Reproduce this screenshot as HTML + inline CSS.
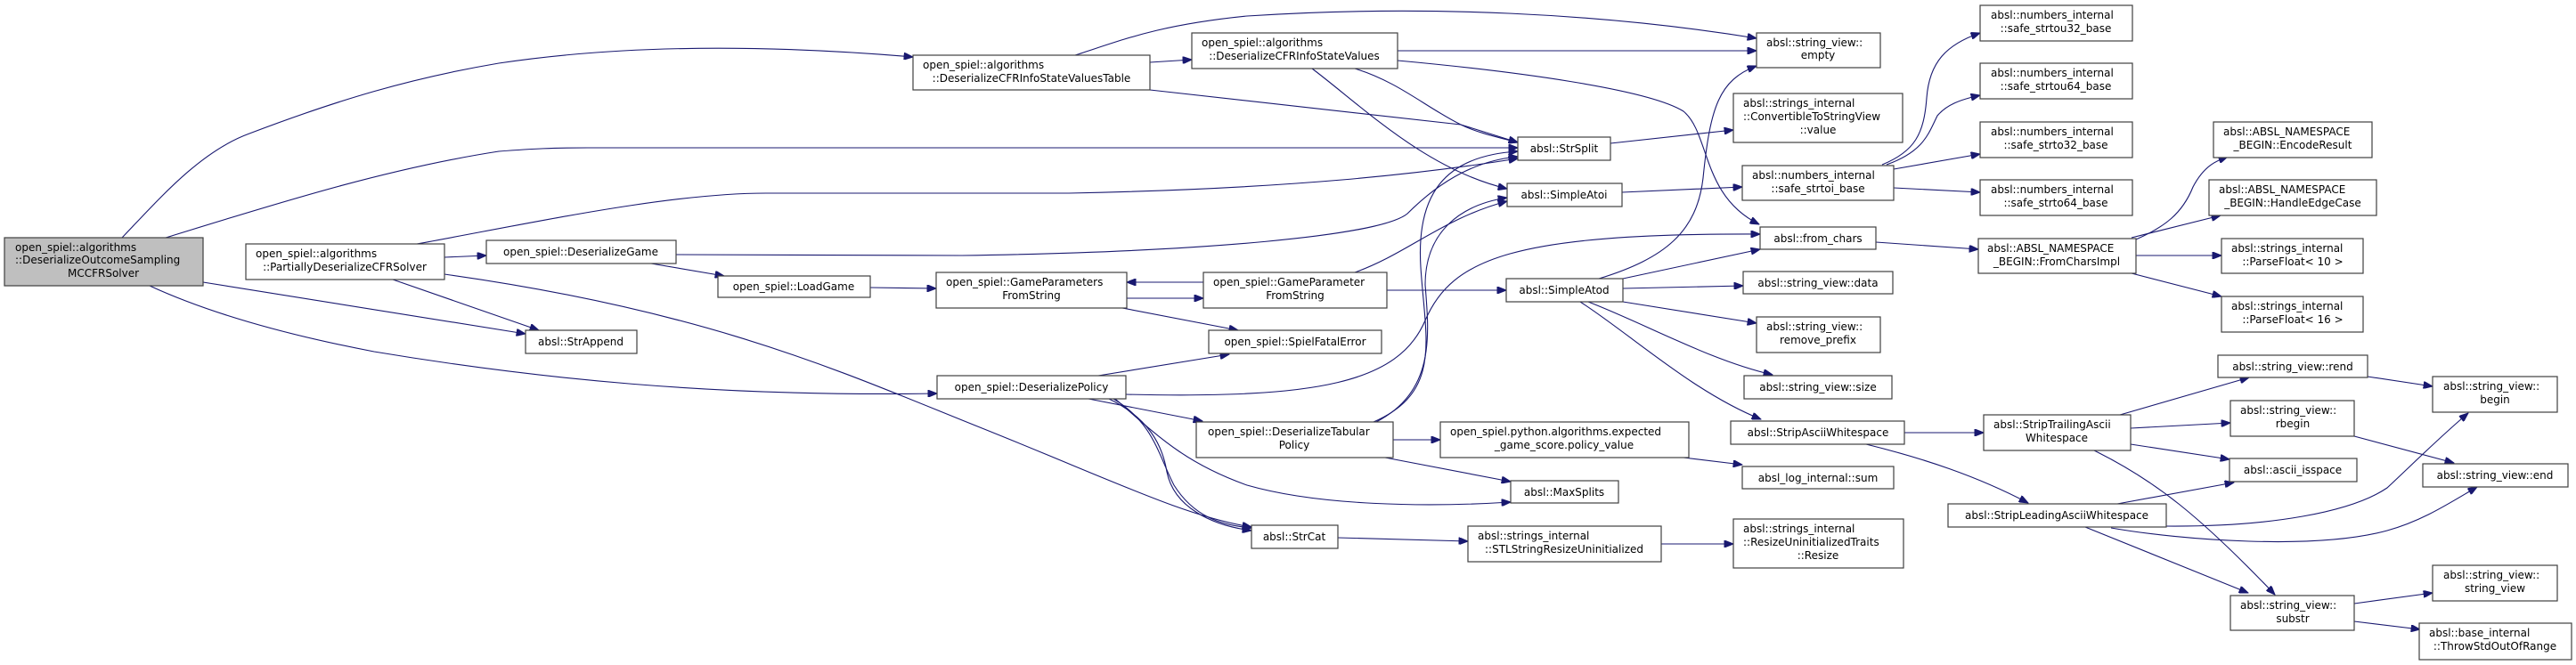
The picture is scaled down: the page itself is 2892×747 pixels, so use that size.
<!DOCTYPE html>
<html><head><meta charset="utf-8"><style>
html,body{margin:0;padding:0;background:#fff;}
svg{display:block;}
text{font-family:"DejaVu Sans","Liberation Sans",sans-serif;font-size:12px;fill:#000;}
.n{fill:#fff;stroke:#404040;stroke-width:1.2;}
.m{fill:#bfbfbf;stroke:#404040;stroke-width:1.2;}
.e{fill:none;stroke:#191970;stroke-width:1.1;marker-end:url(#a);}
</style></head><body>
<svg width="2892" height="747" viewBox="0 0 2892 747" xmlns="http://www.w3.org/2000/svg">
<defs><marker id="a" viewBox="0 0 10 8" refX="10" refY="4" markerWidth="11" markerHeight="8" markerUnits="userSpaceOnUse" orient="auto"><path d="M0,0 L10,4 L0,8 Z" fill="#191970" stroke="#191970"/></marker></defs>

<!-- edges -->
<path class="e" d="M137,267 C180,222 225,170 280,150 C380,112 460,88 560,71 C700,50 860,50 1025,64"/>
<path class="e" d="M186,267 C300,232 430,190 560,170 C600,167 620,166 660,166 L1704,166"/>
<path class="e" d="M468,274 C600,250 750,217 860,217 L1200,217 C1450,212 1600,195 1704,178"/>
<path class="e" d="M759,286 L1080,287 C1350,283 1550,265 1580,240 C1620,200 1660,180 1704,176"/>
<path class="e" d="M228,317 L590,375"/>
<path class="e" d="M441,314 L605,371"/>
<path class="e" d="M168,321 C220,345 300,372 420,395 C600,425 800,446 1052,442"/>
<path class="e" d="M499,308 C800,350 950,420 1100,480 C1250,540 1330,580 1405,592"/>
<path class="e" d="M499,289 L546,287"/>
<path class="e" d="M731,296 L813,310"/>
<path class="e" d="M977,323 L1051,324"/>
<path class="e" d="M1291,70 L1338,67"/>
<path class="e" d="M1291,101 L1640,140 L1704,160"/>
<path class="e" d="M1207,62 C1260,45 1300,28 1400,18 C1600,5 1800,15 1972,43"/>
<path class="e" d="M1569,57 L1972,57"/>
<path class="e" d="M1569,68 C1700,80 1850,100 1890,125 C1920,150 1910,220 1975,252"/>
<path class="e" d="M1521,77 C1570,92 1600,120 1640,140 C1660,150 1690,156 1704,160"/>
<path class="e" d="M1473,77 C1530,120 1600,190 1692,212"/>
<path class="e" d="M1521,306 C1580,285 1620,245 1692,226"/>
<path class="e" d="M1542,474 C1620,440 1600,380 1595,300 C1590,220 1620,175 1704,170"/>
<path class="e" d="M1545,474 C1610,440 1605,380 1600,320 C1600,260 1640,230 1692,222"/>
<path class="e" d="M1264,443 C1480,448 1570,430 1600,360 C1630,290 1700,262 1976,263"/>
<path class="e" d="M1233,422 L1380,398"/>
<path class="e" d="M1260,346 L1390,371"/>
<path class="e" d="M1351,317 L1265,317"/>
<path class="e" d="M1265,335 L1351,335"/>
<path class="e" d="M1557,326 L1691,326"/>
<path class="e" d="M1222,448 L1350,473"/>
<path class="e" d="M1245,448 C1290,470 1305,500 1310,530 C1318,570 1360,590 1405,596"/>
<path class="e" d="M1250,448 C1295,475 1300,510 1318,545 C1340,580 1370,590 1405,593"/>
<path class="e" d="M1252,448 C1300,490 1330,520 1400,545 C1480,568 1600,570 1696,564"/>
<path class="e" d="M1555,514 L1696,541"/>
<path class="e" d="M1564,494 L1617,494"/>
<path class="e" d="M1502,604 L1648,608"/>
<path class="e" d="M1890,514 L1956,522"/>
<path class="e" d="M1808,161 L1946,146"/>
<path class="e" d="M1821,216 L1956,210"/>
<path class="e" d="M1795,313 C1870,290 1905,260 1912,200 C1920,120 1930,90 1972,74"/>
<path class="e" d="M1822,313 L1976,280"/>
<path class="e" d="M1822,324 L1957,321"/>
<path class="e" d="M1822,339 L1972,363"/>
<path class="e" d="M1783,339 C1850,365 1920,405 1990,421"/>
<path class="e" d="M1774,339 C1830,375 1900,440 1977,471"/>
<path class="e" d="M1865,611 L1946,611"/>
<path class="e" d="M2138,486 L2227,486"/>
<path class="e" d="M2095,499 C2160,515 2220,535 2277,565"/>
<path class="e" d="M2113,185 C2150,170 2160,150 2163,110 C2166,70 2185,50 2223,37"/>
<path class="e" d="M2118,185 C2160,170 2165,150 2175,130 C2185,118 2200,112 2223,107"/>
<path class="e" d="M2126,190 L2223,173"/>
<path class="e" d="M2126,211 L2223,216"/>
<path class="e" d="M2106,272 L2221,280"/>
<path class="e" d="M2398,269 C2430,255 2450,240 2462,210 C2475,185 2490,180 2501,176"/>
<path class="e" d="M2393,267 L2493,242"/>
<path class="e" d="M2398,287 L2494,287"/>
<path class="e" d="M2393,307 L2494,333"/>
<path class="e" d="M2380,466 L2525,424"/>
<path class="e" d="M2392,481 L2504,475"/>
<path class="e" d="M2392,499 L2503,516"/>
<path class="e" d="M2351,506 C2420,540 2470,580 2554,668"/>
<path class="e" d="M2377,566 L2508,542"/>
<path class="e" d="M2431,591 C2550,592 2640,575 2680,548 C2710,520 2740,490 2771,464"/>
<path class="e" d="M2370,593 C2450,607 2600,618 2680,596 C2720,585 2750,565 2781,547"/>
<path class="e" d="M2341,592 L2524,666"/>
<path class="e" d="M2658,423 L2731,434"/>
<path class="e" d="M2643,490 L2755,520"/>
<path class="e" d="M2643,678 L2731,666"/>
<path class="e" d="M2643,698 L2717,707"/>

<!-- nodes -->
<rect class="m" x="5" y="267" width="223" height="54"/>
<text x="17" y="282">open_spiel::algorithms</text><text x="17" y="296">::DeserializeOutcomeSampling</text><text x="116" y="311" text-anchor="middle">MCCFRSolver</text>

<rect class="n" x="276" y="274" width="223" height="40"/>
<text x="287" y="289">open_spiel::algorithms</text><text x="387" y="304" text-anchor="middle">::PartiallyDeserializeCFRSolver</text>

<rect class="n" x="546" y="270" width="213" height="26"/><text x="652" y="287" text-anchor="middle">open_spiel::DeserializeGame</text>
<rect class="n" x="806" y="310" width="171" height="24"/><text x="891" y="326" text-anchor="middle">open_spiel::LoadGame</text>
<rect class="n" x="590" y="371" width="125" height="26"/><text x="652" y="388" text-anchor="middle">absl::StrAppend</text>

<rect class="n" x="1025" y="62" width="266" height="39"/>
<text x="1036" y="77">open_spiel::algorithms</text><text x="1158" y="92" text-anchor="middle">::DeserializeCFRInfoStateValuesTable</text>

<rect class="n" x="1051" y="306" width="214" height="40"/>
<text x="1062" y="321">open_spiel::GameParameters</text><text x="1158" y="336" text-anchor="middle">FromString</text>

<rect class="n" x="1052" y="422" width="212" height="26"/><text x="1158" y="439" text-anchor="middle">open_spiel::DeserializePolicy</text>

<rect class="n" x="1338" y="37" width="231" height="40"/>
<text x="1349" y="52">open_spiel::algorithms</text><text x="1453" y="67" text-anchor="middle">::DeserializeCFRInfoStateValues</text>

<rect class="n" x="1351" y="306" width="206" height="40"/>
<text x="1362" y="321">open_spiel::GameParameter</text><text x="1454" y="336" text-anchor="middle">FromString</text>

<rect class="n" x="1357" y="371" width="194" height="26"/><text x="1454" y="388" text-anchor="middle">open_spiel::SpielFatalError</text>

<rect class="n" x="1343" y="474" width="221" height="40"/>
<text x="1356" y="489">open_spiel::DeserializeTabular</text><text x="1453" y="504" text-anchor="middle">Policy</text>

<rect class="n" x="1405" y="590" width="97" height="26"/><text x="1453" y="607" text-anchor="middle">absl::StrCat</text>

<rect class="n" x="1617" y="474" width="279" height="40"/>
<text x="1628" y="489">open_spiel.python.algorithms.expected</text><text x="1756" y="504" text-anchor="middle">_game_score.policy_value</text>

<rect class="n" x="1704" y="154" width="104" height="26"/><text x="1756" y="171" text-anchor="middle">absl::StrSplit</text>
<rect class="n" x="1692" y="206" width="129" height="26"/><text x="1756" y="223" text-anchor="middle">absl::SimpleAtoi</text>
<rect class="n" x="1691" y="313" width="131" height="26"/><text x="1756" y="330" text-anchor="middle">absl::SimpleAtod</text>
<rect class="n" x="1696" y="540" width="121" height="25"/><text x="1756" y="557" text-anchor="middle">absl::MaxSplits</text>
<rect class="n" x="1648" y="591" width="217" height="40"/>
<text x="1659" y="606">absl::strings_internal</text><text x="1756" y="621" text-anchor="middle">::STLStringResizeUninitialized</text>

<rect class="n" x="1972" y="37" width="139" height="39"/>
<text x="1983" y="52">absl::string_view::</text><text x="2041" y="66" text-anchor="middle">empty</text>
<rect class="n" x="1946" y="105" width="190" height="55"/>
<text x="1957" y="120">absl::strings_internal</text><text x="1957" y="135">::ConvertibleToStringView</text><text x="2041" y="150" text-anchor="middle">::value</text>
<rect class="n" x="1956" y="186" width="170" height="39"/>
<text x="1967" y="201">absl::numbers_internal</text><text x="2041" y="216" text-anchor="middle">::safe_strtoi_base</text>
<rect class="n" x="1976" y="255" width="130" height="25"/><text x="2041" y="272" text-anchor="middle">absl::from_chars</text>
<rect class="n" x="1957" y="305" width="168" height="25"/><text x="2041" y="322" text-anchor="middle">absl::string_view::data</text>
<rect class="n" x="1972" y="356" width="139" height="40"/>
<text x="1983" y="371">absl::string_view::</text><text x="2041" y="386" text-anchor="middle">remove_prefix</text>
<rect class="n" x="1958" y="422" width="166" height="26"/><text x="2041" y="439" text-anchor="middle">absl::string_view::size</text>
<rect class="n" x="1943" y="473" width="195" height="26"/><text x="2041" y="490" text-anchor="middle">absl::StripAsciiWhitespace</text>
<rect class="n" x="1956" y="524" width="170" height="25"/><text x="2041" y="541" text-anchor="middle">absl_log_internal::sum</text>
<rect class="n" x="1946" y="583" width="191" height="55"/>
<text x="1957" y="598">absl::strings_internal</text><text x="1957" y="613">::ResizeUninitializedTraits</text><text x="2041" y="628" text-anchor="middle">::Resize</text>

<rect class="n" x="2223" y="6" width="171" height="40"/>
<text x="2235" y="21">absl::numbers_internal</text><text x="2308" y="36" text-anchor="middle">::safe_strtou32_base</text>
<rect class="n" x="2223" y="71" width="171" height="40"/>
<text x="2235" y="86">absl::numbers_internal</text><text x="2308" y="101" text-anchor="middle">::safe_strtou64_base</text>
<rect class="n" x="2223" y="137" width="171" height="40"/>
<text x="2235" y="152">absl::numbers_internal</text><text x="2308" y="167" text-anchor="middle">::safe_strto32_base</text>
<rect class="n" x="2223" y="202" width="171" height="40"/>
<text x="2235" y="217">absl::numbers_internal</text><text x="2308" y="232" text-anchor="middle">::safe_strto64_base</text>
<rect class="n" x="2221" y="268" width="177" height="39"/>
<text x="2231" y="283">absl::ABSL_NAMESPACE</text><text x="2309" y="298" text-anchor="middle">_BEGIN::FromCharsImpl</text>

<rect class="n" x="2485" y="137" width="178" height="40"/>
<text x="2496" y="152">absl::ABSL_NAMESPACE</text><text x="2574" y="167" text-anchor="middle">_BEGIN::EncodeResult</text>
<rect class="n" x="2480" y="202" width="188" height="40"/>
<text x="2491" y="217">absl::ABSL_NAMESPACE</text><text x="2574" y="232" text-anchor="middle">_BEGIN::HandleEdgeCase</text>
<rect class="n" x="2494" y="268" width="159" height="39"/>
<text x="2505" y="283">absl::strings_internal</text><text x="2574" y="298" text-anchor="middle">::ParseFloat&lt; 10 &gt;</text>
<rect class="n" x="2494" y="333" width="159" height="40"/>
<text x="2505" y="348">absl::strings_internal</text><text x="2574" y="363" text-anchor="middle">::ParseFloat&lt; 16 &gt;</text>

<rect class="n" x="2227" y="466" width="165" height="40"/>
<text x="2238" y="481">absl::StripTrailingAscii</text><text x="2309" y="496" text-anchor="middle">Whitespace</text>
<rect class="n" x="2187" y="566" width="245" height="26"/><text x="2309" y="583" text-anchor="middle">absl::StripLeadingAsciiWhitespace</text>

<rect class="n" x="2490" y="399" width="168" height="25"/><text x="2574" y="416" text-anchor="middle">absl::string_view::rend</text>
<rect class="n" x="2504" y="450" width="139" height="40"/>
<text x="2515" y="465">absl::string_view::</text><text x="2574" y="480" text-anchor="middle">rbegin</text>
<rect class="n" x="2503" y="515" width="143" height="26"/><text x="2574" y="532" text-anchor="middle">absl::ascii_isspace</text>
<rect class="n" x="2504" y="669" width="139" height="39"/>
<text x="2515" y="684">absl::string_view::</text><text x="2574" y="699" text-anchor="middle">substr</text>

<rect class="n" x="2731" y="423" width="140" height="40"/>
<text x="2743" y="438">absl::string_view::</text><text x="2801" y="453" text-anchor="middle">begin</text>
<rect class="n" x="2720" y="521" width="163" height="26"/><text x="2801" y="538" text-anchor="middle">absl::string_view::end</text>
<rect class="n" x="2731" y="635" width="140" height="40"/>
<text x="2743" y="650">absl::string_view::</text><text x="2801" y="665" text-anchor="middle">string_view</text>
<rect class="n" x="2716" y="700" width="171" height="41"/>
<text x="2727" y="715">absl::base_internal</text><text x="2801" y="730" text-anchor="middle">::ThrowStdOutOfRange</text>
</svg>
</body></html>
